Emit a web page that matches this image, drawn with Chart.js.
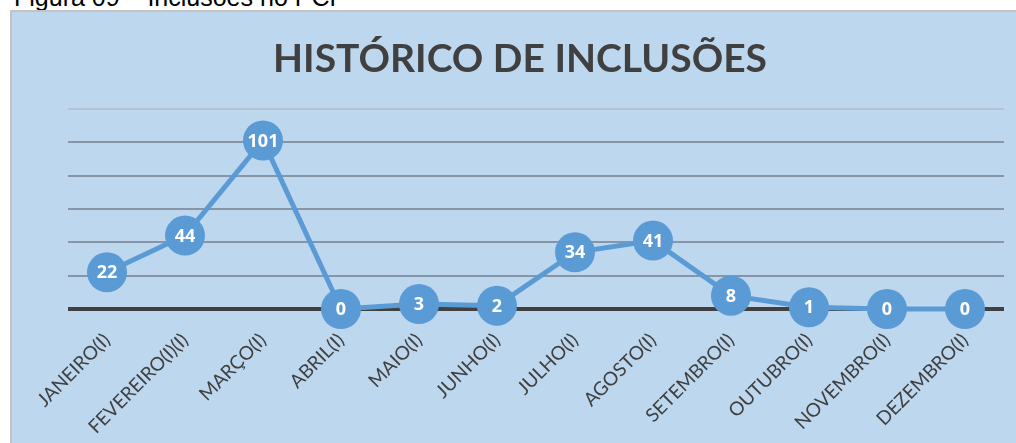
<!DOCTYPE html>
<html>
<head>
<meta charset="utf-8">
<script src="https://cdn.jsdelivr.net/npm/chart.js@4/dist/chart.umd.min.js"></script>
<style>
  body { margin: 0; background: #fff; width: 1016px; height: 443px; overflow: hidden; position: relative; }
  #legenda { position: absolute; left: 14px; top: -17px; font-family: "Liberation Sans", Arial, sans-serif; font-size: 25px; color: #000; white-space: nowrap; }
  #quadro { position: absolute; left: 10px; top: 10px; width: 1006px; height: 433px; border-top: 2px solid #c3c3c3; border-left: 2px solid #c3c3c3; background: #bdd7ee; overflow: hidden; }
  #grafico { display: block; }
</style>
</head>
<body>
<div id="legenda">Figura 09 – Inclusões no PCP</div>
<div id="quadro"><canvas id="grafico" width="1016" height="431"></canvas></div>
<script>
var meses = ['JANEIRO(I)', 'FEVEREIRO(I)(I)', 'MARÇO(I)', 'ABRIL(I)', 'MAIO(I)', 'JUNHO(I)', 'JULHO(I)', 'AGOSTO(I)', 'SETEMBRO(I)', 'OUTUBRO(I)', 'NOVEMBRO(I)', 'DEZEMBRO(I)'];
var inclusoes = [22, 44, 101, 0, 3, 2, 34, 41, 8, 1, 0, 0];
var azul = '#5b9bd5';

// escreve o valor dentro de cada bolinha
var rotulos = {
    id: 'rotulos',
    afterDatasetsDraw: function(chart) {
        var ctx = chart.ctx;
        var meta = chart.getDatasetMeta(0);
        ctx.save();
        ctx.fillStyle = '#ffffff';
        ctx.font = 'bold 18px "Open Sans", Lato, sans-serif';
        ctx.textAlign = 'center';
        ctx.textBaseline = 'middle';
        meta.data.forEach(function(pt, i) {
            ctx.fillText(inclusoes[i], pt.x, pt.y + 1);
        });
        ctx.restore();
    }
};

new Chart(document.getElementById('grafico'), {
    type: 'line',
    data: {
        labels: meses,
        datasets: [{
            data: inclusoes,
            borderColor: azul,
            borderWidth: 5,
            backgroundColor: azul,
            pointRadius: 20,
            pointHoverRadius: 20,
            pointBorderWidth: 0,
            tension: 0,
            clip: false
        }]
    },
    options: {
        responsive: false,
        animation: false,
        layout: { padding: { left: 24, right: 24, top: 0, bottom: 0 } },
        plugins: {
            legend: { display: false },
            tooltip: { enabled: false },
            title: {
                display: true,
                text: 'HISTÓRICO DE INCLUSÕES',
                color: '#404040',
                font: { family: 'Lato', size: 39, weight: 'bold' },
                padding: { top: 24, bottom: 26 }
            }
        },
        scales: {
            x: {
                offset: true,
                grid: { display: false },
                border: { display: false },
                afterFit: function(scale) { scale.height = 134; },
                ticks: {
                    autoSkip: false,
                    minRotation: 45,
                    maxRotation: 45,
                    color: '#404040',
                    padding: 12,
                    font: { family: 'Lato', size: 19 }
                }
            },
            y: {
                min: 0,
                max: 120,
                border: { display: false },
                afterFit: function(scale) { scale.width = 32; },
                ticks: { display: false, stepSize: 20 },
                grid: {
                    drawTicks: false,
                    color: function(c) {
                        if (c.tick.value === 0) return '#404040';
                        if (c.tick.value === 120) return '#b3c3d3';
                        return '#8696a6';
                    },
                    lineWidth: function(c) { return c.tick.value === 0 ? 4 : 2; }
                }
            }
        }
    },
    plugins: [rotulos]
});
</script>
</body>
</html>
